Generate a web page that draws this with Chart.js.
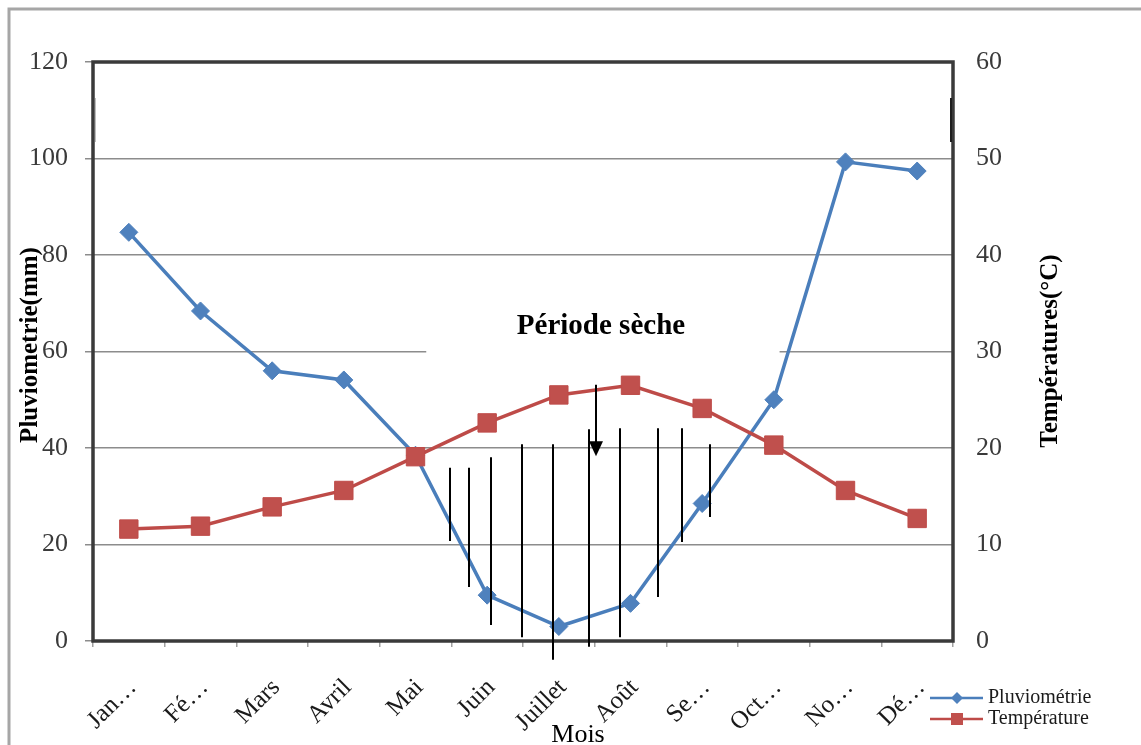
<!DOCTYPE html>
<html>
<head>
<meta charset="utf-8">
<script src="https://cdn.jsdelivr.net/npm/chart.js@4.4.1/dist/chart.umd.min.js"></script>
<style>
  html, body { margin: 0; padding: 0; background: #ffffff; }
  #wrap { width: 1141px; height: 745px; }
</style>
</head>
<body>
<div id="wrap"><canvas id="chart" width="1141" height="745"></canvas></div>
<script>
// Monthly climate data
const months = ['Jan…', 'Fé…', 'Mars', 'Avril', 'Mai', 'Juin', 'Juillet', 'Août', 'Se…', 'Oct…', 'No…', 'Dé…'];
const pluviometrie = [84.7, 68.4, 56, 54.1, 38.5, 9.5, 3, 7.8, 28.5, 50, 99.3, 97.4];
const temperature = [11.6, 11.9, 13.9, 15.6, 19.1, 22.6, 25.5, 26.5, 24.1, 20.3, 15.6, 12.7];
const rainTicks = [0, 20, 40, 60, 80, 100, 120];
const tempTicks = [0, 10, 20, 30, 40, 50, 60];

// Dry-season hatching: [month position, top (mm), bottom (mm)]
const dryHatch = [
  [4.48, 35.9, 20.7],
  [4.74, 35.9, 11.2],
  [5.05, 38.1, 3.3],
  [5.48, 40.8, 0.8],
  [5.92, 40.8, -3.9],
  [6.42, 43.9, -1.2],
  [6.85, 44.1, 0.8],
  [7.38, 44.1, 9.1],
  [7.72, 44.1, 20.5],
  [8.11, 40.8, 25.7]
];
// Arrow pointing into the dry period: [month position, start (mm), tip (mm)]
const dryArrow = [6.52, 53.1, 38.3];
// Box behind the "Période sèche" caption: [from month, to month, top mm, bottom mm]
const captionBox = [4.15, 9.08, 64, 57];

const SERIF = '"Liberation Serif", "DejaVu Serif", serif';

const decorations = {
  id: 'decorations',
  beforeDraw(chart) {
    const ctx = chart.ctx;
    ctx.save();
    ctx.fillStyle = '#ffffff';
    ctx.fillRect(0, 0, chart.width, chart.height);
    // outer frame
    ctx.strokeStyle = '#a6a6a6';
    ctx.lineWidth = 3;
    ctx.strokeRect(9, 9, 1200, 800);
    ctx.restore();
  },
  beforeDatasetsDraw(chart) {
    const ctx = chart.ctx;
    const x = chart.scales.x, y = chart.scales.y;
    const a = chart.chartArea;
    ctx.save();
    // caption box hides part of the gridline
    const bx0 = x.getPixelForValue(captionBox[0]);
    const bx1 = x.getPixelForValue(captionBox[1]);
    const by0 = y.getPixelForValue(captionBox[2]);
    const by1 = y.getPixelForValue(captionBox[3]);
    ctx.fillStyle = '#ffffff';
    ctx.fillRect(bx0, by0, bx1 - bx0, by1 - by0);
    // plot frame
    ctx.strokeStyle = '#3a3a3a';
    ctx.lineWidth = 3.5;
    ctx.strokeRect(a.left, a.top, a.right - a.left, a.bottom - a.top);
    ctx.strokeStyle = '#1e1e1e';
    ctx.lineWidth = 2;
    ctx.beginPath();
    ctx.moveTo(a.right - 2, a.top + 36);
    ctx.lineTo(a.right - 2, a.top + 80);
    ctx.stroke();
    ctx.strokeStyle = '#bdbdbd';
    ctx.lineWidth = 1;
    ctx.beginPath();
    ctx.moveTo(a.left + 2.5, a.top + 36);
    ctx.lineTo(a.left + 2.5, a.top + 80);
    ctx.stroke();
    ctx.restore();
  },
  afterDraw(chart) {
    const ctx = chart.ctx;
    const x = chart.scales.x, y = chart.scales.y;
    ctx.save();

    // hatching of the dry period
    ctx.strokeStyle = '#000000';
    ctx.lineWidth = 2;
    dryHatch.forEach(([m, top, bottom]) => {
      const px = Math.round(x.getPixelForValue(m));
      ctx.beginPath();
      ctx.moveTo(px, y.getPixelForValue(top));
      ctx.lineTo(px, y.getPixelForValue(bottom));
      ctx.stroke();
    });

    // arrow
    const ax = Math.round(x.getPixelForValue(dryArrow[0]));
    const ay0 = y.getPixelForValue(dryArrow[1]);
    const ay1 = y.getPixelForValue(dryArrow[2]);
    ctx.lineWidth = 2;
    ctx.beginPath();
    ctx.moveTo(ax, ay0);
    ctx.lineTo(ax, ay1 - 12);
    ctx.stroke();
    ctx.fillStyle = '#000000';
    ctx.beginPath();
    ctx.moveTo(ax - 7, ay1 - 15);
    ctx.lineTo(ax + 7, ay1 - 15);
    ctx.lineTo(ax, ay1);
    ctx.closePath();
    ctx.fill();

    // caption
    ctx.fillStyle = '#000000';
    ctx.font = 'bold 29px ' + SERIF;
    ctx.textAlign = 'center';
    ctx.textBaseline = 'middle';
    ctx.fillText('Période sèche', 601, 327);

    // axis titles
    ctx.font = 'bold 25px ' + SERIF;
    ctx.save();
    ctx.translate(31, 345);
    ctx.rotate(-Math.PI / 2);
    ctx.fillText('Pluviometrie(mm)', 0, 0);
    ctx.restore();
    ctx.save();
    ctx.translate(1051, 351);
    ctx.rotate(-Math.PI / 2);
    ctx.fillText('Températures(°C)', 0, 0);
    ctx.restore();

    ctx.font = '26px ' + SERIF;
    ctx.textBaseline = 'alphabetic';
    ctx.fillText('Mois', 578, 742);

    // legend
    const items = chart.data.datasets.slice().sort((p, q) => (p.legendRank - q.legendRank));
    ctx.font = '20px ' + SERIF;
    ctx.textAlign = 'left';
    ctx.textBaseline = 'middle';
    items.forEach((ds, i) => {
      const ly = 698 + i * 21;
      ctx.strokeStyle = ds.borderColor;
      ctx.lineWidth = 2.5;
      ctx.beginPath();
      ctx.moveTo(930, ly);
      ctx.lineTo(983, ly);
      ctx.stroke();
      ctx.fillStyle = ds.pointBackgroundColor;
      if (ds.pointStyle === 'rectRot') {
        ctx.beginPath();
        ctx.moveTo(957, ly - 6);
        ctx.lineTo(963, ly);
        ctx.lineTo(957, ly + 6);
        ctx.lineTo(951, ly);
        ctx.closePath();
        ctx.fill();
      } else {
        ctx.fillRect(951, ly - 6, 12, 12);
      }
      ctx.fillStyle = '#1a1a1a';
      ctx.fillText(ds.label, 988, ly);
    });

    ctx.restore();
  }
};

new Chart(document.getElementById('chart'), {
  type: 'line',
  data: {
    labels: months,
    datasets: [
      {
        label: 'Pluviométrie',
        legendRank: 0,
        order: 1,
        data: pluviometrie,
        yAxisID: 'y',
        borderColor: '#4A7EBB',
        borderWidth: 3.5,
        pointStyle: 'rectRot',
        pointRadius: 9,
        pointBackgroundColor: '#4F81BD',
        pointBorderColor: '#4F81BD',
        pointBorderWidth: 1,
        tension: 0,
        fill: false
      },
      {
        label: 'Température',
        legendRank: 1,
        order: 0,
        data: temperature,
        yAxisID: 'y1',
        borderColor: '#BE4B48',
        borderWidth: 3.5,
        pointStyle: 'rect',
        pointRadius: 13,
        pointBackgroundColor: '#C0504D',
        pointBorderColor: '#BE4B48',
        pointBorderWidth: 1,
        tension: 0,
        fill: false
      }
    ]
  },
  options: {
    responsive: false,
    animation: false,
    events: [],
    layout: { padding: { top: 62, left: 0, right: 0, bottom: 0 } },
    plugins: {
      legend: { display: false },
      tooltip: { enabled: false },
      title: { display: false }
    },
    scales: {
      x: {
        type: 'category',
        offset: true,
        grid: {
          display: true,
          offset: true,
          drawOnChartArea: false,
          drawTicks: true,
          tickLength: 6,
          color: '#a0a0a0',
          lineWidth: 1.5
        },
        border: { display: false },
        ticks: {
          autoSkip: false,
          minRotation: 45,
          maxRotation: 45,
          padding: 26,
          labelOffset: 4,
          color: '#1a1a1a',
          font: { family: SERIF, size: 25 }
        },
        afterFit(scale) { scale.height = 104; }
      },
      y: {
        position: 'left',
        min: 0,
        max: 120,
        afterBuildTicks(scale) { scale.ticks = rainTicks.map(v => ({ value: v })); },
        grid: {
          color: '#8c8c8c',
          lineWidth: 1.5,
          drawTicks: true,
          tickLength: 8
        },
        border: { display: false },
        ticks: {
          padding: 17,
          color: '#3a3a3a',
          font: { family: SERIF, size: 26 }
        },
        afterFit(scale) { scale.width = 93; }
      },
      y1: {
        position: 'right',
        min: 0,
        max: 60,
        afterBuildTicks(scale) { scale.ticks = tempTicks.map(v => ({ value: v })); },
        grid: { display: false, drawOnChartArea: false, drawTicks: false },
        border: { display: false },
        ticks: {
          padding: 23,
          color: '#3a3a3a',
          font: { family: SERIF, size: 26 }
        },
        afterFit(scale) { scale.width = 188; }
      }
    }
  },
  plugins: [decorations]
});
</script>
</body>
</html>
